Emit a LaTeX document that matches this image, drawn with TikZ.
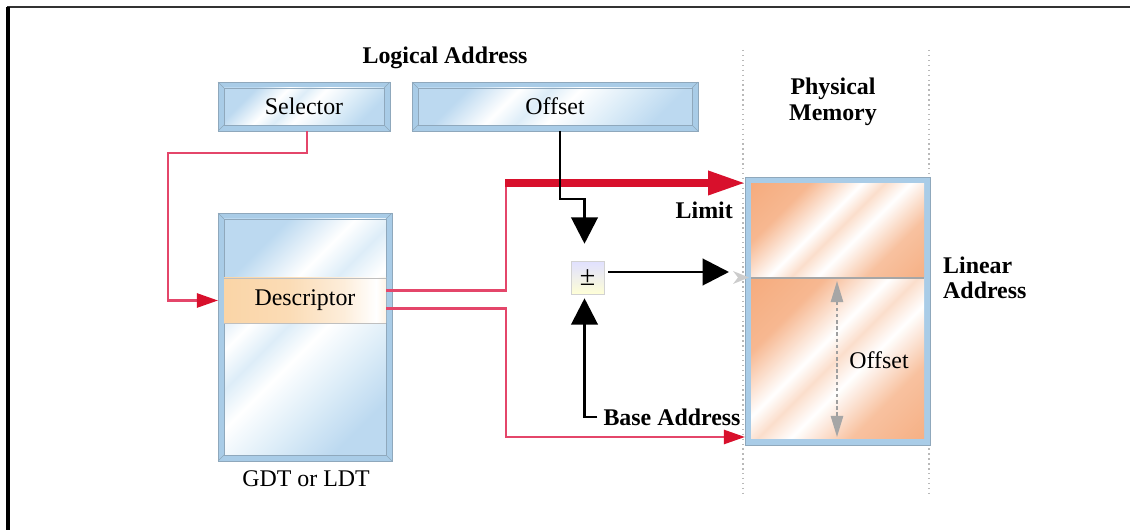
\documentclass[tikz,border=0pt]{standalone}
\usepackage{fontspec}
\setmainfont{Liberation Serif}
\usetikzlibrary{arrows.meta,backgrounds,calc}

\definecolor{bevblue}{HTML}{A9CCE7}
\definecolor{bevedge}{HTML}{8FA8BC}
\definecolor{glassA}{HTML}{BCD9F0}
\definecolor{glassB}{HTML}{DDEDF8}
\definecolor{orng}{HTML}{F4A06C}
\definecolor{peach}{HTML}{FAD3A3}
\definecolor{redthin}{HTML}{E4466A}
\definecolor{redthick}{HTML}{D8102C}

% diagonal glass streaks
\pgfdeclarehorizontalshading{glassblue}{100bp}{color(0bp)=(glassA); color(26bp)=(glassA); color(38bp)=(white); color(45bp)=(glassB); color(52bp)=(white); color(64bp)=(glassB); color(76bp)=(glassA); color(100bp)=(glassA)}
\pgfdeclarehorizontalshading{glassorange}{100bp}{color(0bp)=(orng); color(30bp)=(orng!75); color(44bp)=(white); color(50bp)=(orng!35); color(57bp)=(white); color(70bp)=(orng!65); color(100bp)=(orng)}
\pgfdeclarehorizontalshading{peachband}{100bp}{color(0bp)=(peach); color(12bp)=(peach!60); color(20bp)=(peach); color(45bp)=(peach!80); color(62bp)=(peach!40); color(72bp)=(white); color(80bp)=(peach!70); color(92bp)=(peach!50); color(100bp)=(peach)}

% bevelled glass frame behind a node: #1 node, #2 bevel width (px)
\newcommand\glassframe[2]{%
  \fill[bevblue] (#1.north west) rectangle (#1.south east);
  \shade[shading=glassblue,shading angle=-45]
    ([shift={(#2,#2)}]#1.north west) rectangle ([shift={(-#2,-#2)}]#1.south east);
  \draw[bevedge,line width=0.4pt] (#1.north west) rectangle (#1.south east);
  \draw[bevedge,line width=0.3pt]
    ([shift={(#2,#2)}]#1.north west) rectangle ([shift={(-#2,-#2)}]#1.south east);
  \draw[bevedge,line width=0.3pt]
    (#1.north west) -- ++(#2,#2) (#1.north east) -- ++(-#2,#2)
    (#1.south west) -- ++(#2,-#2) (#1.south east) -- ++(-#2,-#2);
}

\begin{document}
\begin{tikzpicture}[x=0.02cm,y=-0.02cm,
  box/.style={rectangle,inner sep=0pt,outer sep=0pt},
  lbl/.style={font=\fontsize{13.6}{16}\selectfont},
  blbl/.style={font=\fontsize{13.6}{16}\selectfont\bfseries},
  redline/.style={draw=redthin,line width=1.4pt},
  redarrow/.style={redline,-{Triangle[length=12pt,width=8pt,color=redthick]}},
  thickred/.style={draw=redthick,line width=4pt,-{Triangle[length=21pt,width=13pt]}},
  blk/.style={draw=black,line width=1.7pt,-{Triangle[length=15pt,width=15pt]}},
  graydim/.style={draw=gray!75,line width=1pt,dash pattern=on 2pt off 1.5pt,
    {Triangle[length=12pt,width=7pt,color=gray!70]}-{Triangle[length=12pt,width=7pt,color=gray!70]}},
]
\useasboundingbox (0,0) rectangle (1130,530);

% page frame
\draw[line width=1.6pt,black!80] (7,7) -- (1130,7);
\draw[line width=2pt] (8,7) -- (8,530);

% logical address
\node[blbl] (logical) at (445,58) {Logical Address};
\node[box,minimum width=172*0.02cm,minimum height=49*0.02cm,lbl] (sel) at (304,106.5) {Selector};
\node[box,minimum width=286*0.02cm,minimum height=49*0.02cm,lbl] (off) at (555,106.5) {Offset};

% descriptor table
\node[box,minimum width=174*0.02cm,minimum height=248*0.02cm] (gdt) at (305,337) {};
\node[box,minimum width=162*0.02cm,minimum height=45*0.02cm,lbl] (desc) at (305,300.5) {Descriptor};
\node[lbl] (gdtlbl) at (306,479) {GDT or LDT};

% adder
\node[box,minimum size=33*0.02cm,font=\fontsize{16}{16}\selectfont] (plus) at (587.5,278) {±};

% physical memory
\node[box,minimum width=185*0.02cm,minimum height=268*0.02cm] (mem) at (837.5,311) {};
\node[blbl,align=center] (phys) at (833,102) {Physical\\[-1pt]Memory};
\node[blbl,anchor=east] (limit) at (739,210) {Limit};
\node[blbl] (base) at (672,417) {Base Address};
\node[blbl,align=left,anchor=west] (linear) at (937,278) {Linear\\[-2pt]Address};
\node[lbl] (memoff) at (879,360) {Offset};

\coordinate (limtip) at ([shift={(0,6)}]mem.north west);
\coordinate (basetip) at ([shift={(0,-8)}]mem.south west);
\coordinate (lintip) at (729,272);

\begin{scope}[on background layer]
  \draw[gray!55,dotted,line width=0.8pt] (743,50) -- (743,493) (929,50) -- (929,493);
  \glassframe{sel}{6}
  \glassframe{off}{6}
  \glassframe{gdt}{6}
  \shade[shading=peachband] (desc.north west) rectangle (desc.south east);
  \draw[gray!50,line width=0.4pt] (desc.north west) -- (desc.north east)
    (desc.south west) -- (desc.south east);
  \shade[top color=blue!12,bottom color=yellow!16,draw=gray!35,line width=0.4pt]
    (plus.north west) rectangle (plus.south east);
  % memory block
  \fill[bevblue] (mem.north west) rectangle (mem.south east);
  \draw[bevedge,line width=0.4pt] (mem.north west) rectangle (mem.south east);
  \shade[shading=glassorange,shading angle=-45] (751,184) rectangle (924,277);
  \shade[shading=glassorange,shading angle=-45] (751,279) rectangle (924,438);
  \draw[gray!70,line width=0.6pt] (751,278) -- (924,278);
  \fill[gray!40] (733,271) -- (749,277.5) -- (733,284) -- (738,277.5) -- cycle;
\end{scope}

% offset span inside memory
\draw[graydim] (837,281) -- (837,437);

% selector into the table
\draw[redarrow] ([shift={(3,0)}]sel.south) -- ++(0,22) -| ([shift={(-56,0)}]desc.west)
  -- (gdt.west |- desc.west);

% descriptor: limit and base
\draw[redline] ([shift={(0,-10)}]desc.east) -- ++(120,0) coordinate (upk) -- (upk |- limtip);
\draw[thickred] ([shift={(-1,0)}]upk |- limtip) -- (limtip);
\draw[redarrow] ([shift={(0,8)}]desc.east) -- ++(120,0) |- (basetip);

% address computation
\draw[blk,shorten >=1pt] ([shift={(5,0)}]off.south) -- ++(0,68) -| ([shift={(-3,-16)}]plus.north);
\draw[blk,shorten >=1pt] (base.west) -| ([shift={(-3,2)}]plus.south);
\draw[blk] ([shift={(4,-6)}]plus.east) -- (lintip);
\end{tikzpicture}
\end{document}
